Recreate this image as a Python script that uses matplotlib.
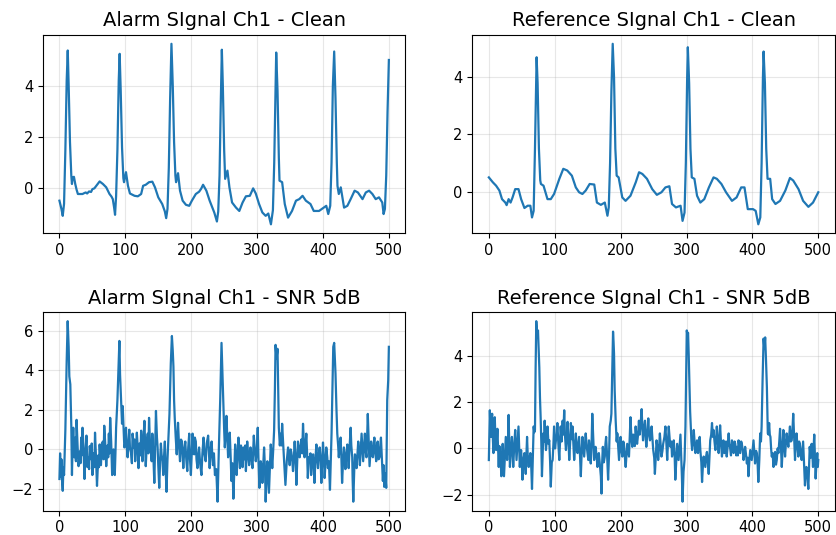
import numpy as np
import matplotlib
matplotlib.use("Agg")
import matplotlib.pyplot as plt

# sample index, amplitude
alarm_clean = [
    (0, -0.48), (3, -0.8), (5, -1.07), (7, -0.6), (9, 1.5), (11, 4.2), (12.6, 5.37), (14, 4.0),
    (16, 1.8), (18, 0.5), (19, 0.17), (20, 0.43), (22, 0.45), (24, 0.17), (26, -0.05), (28, -0.22),
    (35, -0.22), (38, -0.18), (40, -0.16), (42, -0.2), (45, -0.12), (48, -0.14), (50, -0.03),
    (53, 0.0), (56, 0.1), (61, 0.27), (66, 0.17), (71, 0.04), (74, -0.12), (76, -0.22), (79, -0.32),
    (81, -0.42), (83, -0.75), (84.4, -1.03), (86, -0.3), (88, 1.5), (90, 4.2), (91.4, 5.24),
    (93, 3.8), (95, 1.6), (97, 0.4), (98, 0.24), (101, 0.63), (104, 0.1), (107, -0.2), (114, -0.29),
    (119, -0.31), (124, -0.22), (127, 0.1), (131, 0.14), (136, 0.24), (141, 0.26), (145, 0.04),
    (150, -0.35), (156, -0.61), (160, -0.9), (162, -1.16), (164, -0.8), (166, 0.8), (168, 3.5),
    (170, 5.63), (172, 4.0), (174, 1.8), (176, 0.5), (177, 0.24), (180, 0.59), (183, -0.09),
    (187, -0.48), (192, -0.64), (197, -0.68), (201, -0.48), (207, -0.22), (212, -0.13),
    (215, -0.02), (218, 0.14), (223, -0.09), (228, -0.48), (235, -0.94), (239, -1.29), (241, -0.9),
    (243, 0.5), (245, 3.5), (246.5, 5.4), (248, 4.0), (250, 1.5), (251.5, 0.37), (255, 0.69),
    (258, 0.04), (262, -0.55), (268, -0.75), (273, -0.88), (278, -0.55), (283, -0.31), (289, -0.29),
    (294, 0.0), (298, -0.2), (303, -0.61), (308, -0.94), (313, -1.07), (317, -0.98), (321, -1.4),
    (324, -0.85), (326, 1.0), (328, 4.0), (329, 5.29), (331, 3.8), (333, 1.2), (334, 0.3),
    (338, 0.24), (342, -0.61), (347, -1.14), (353, -0.88), (359, -0.48), (364, -0.42), (369, -0.29),
    (374, -0.48), (381, -0.61), (386, -0.88), (394, -0.88), (401, -0.75), (405, -0.68), (408, -1.0),
    (411, -0.68), (413, 1.0), (415, 4.0), (417, 5.33), (419, 3.5), (421, 1.0), (422, 0.1),
    (424, -0.22), (427, 0.04), (432, -0.75), (437, -0.68), (442, -0.42), (448, -0.09), (453, -0.16),
    (460, -0.42), (465, -0.16), (470, -0.09), (475, -0.22), (480, -0.42), (485, -0.35), (490, -0.55),
    (492, -1.0), (494, -0.8), (496, 0.5), (498, 3.0), (500, 5.0),
]

ref_clean = [
    (0, 0.5), (6, 0.33), (11, 0.21), (16, 0.04), (20, -0.26), (25, -0.38), (27, -0.47), (30, -0.26),
    (33, -0.38), (36, -0.2), (40, 0.09), (45, 0.09), (49, -0.26), (54, -0.57), (59, -0.49),
    (63, -0.49), (65.5, -0.9), (68, -0.67), (70, 1.5), (72.5, 4.7), (74, 3.8), (76, 1.5), (78, 0.4),
    (79, 0.27), (83, 0.21), (89, -0.26), (94, -0.26), (99, -0.08), (107, 0.45), (113, 0.8),
    (119, 0.74), (126, 0.56), (132, 0.15), (137, -0.02), (142, -0.08), (147, 0.04), (153, 0.27),
    (160, 0.25), (164, -0.38), (170, -0.46), (176, -0.38), (180, -0.84), (182, -0.55), (184, 1.0),
    (186, 3.5), (188, 5.17), (190, 4.0), (192, 1.5), (194, 0.56), (197, 0.5), (202.5, -0.2),
    (207.5, -0.32), (215, -0.14), (223, 0.33), (228, 0.68), (233, 0.62), (240, 0.45), (248, 0.09),
    (255, -0.11), (262, -0.02), (268, 0.15), (274, 0.19), (278, -0.43), (284, -0.55), (291, -0.49),
    (294, -1.02), (297, -0.73), (299, 1.0), (301, 4.0), (302, 5.05), (304, 3.8), (306, 1.5),
    (308, 0.5), (312, 0.45), (316, -0.14), (321, -0.38), (327, -0.26), (334, 0.15), (341, 0.5),
    (346, 0.45), (353, 0.27), (360, -0.02), (369, -0.32), (376, -0.2), (383, 0.15), (388, 0.15),
    (393, -0.61), (401, -0.61), (405, -0.67), (409, -1.14), (412, -0.9), (414, 1.0), (416, 4.0),
    (417, 4.9), (419, 3.8), (421, 1.5), (423, 0.45), (427, 0.45), (430, -0.26), (435, -0.43),
    (442, -0.32), (450, 0.04), (457, 0.48), (462, 0.39), (470, 0.09), (477, -0.32), (485, -0.53),
    (492, -0.38), (500, -0.02),
]

alarm_noisy = [
    (0, -1.5), (1, -0.2), (2, -1.4), (3, -0.5), (4, -1.6), (5, -2.1), (6, -0.9), (7, -1.3), (9, 1.0),
    (11, 4.5), (12.5, 6.5), (14, 5.2), (15, 3.7), (16.5, 3.3), (18, 1.2), (19, -1.3), (20, 0.3),
    (21, 1.1), (22.5, -0.4), (24, 0.6), (25, -0.6), (26, 1.5), (27.5, 0.2), (29, -0.85), (31, -0.1),
    (32, -0.7), (33, 0.6), (34, -0.3), (35, 1.1), (36.5, 0.1), (38, -1.5), (39.5, -0.2), (41, 0.7),
    (42.5, -0.9), (44, -0.4), (45, -1.0), (46, 0.17), (48, -0.5), (49, 0.3), (50, -1.3), (52, -0.2),
    (53, -0.9), (54, 0.85), (55.5, -0.4), (57, -1.85), (59, -0.3), (60, -0.9), (61, 0.25),
    (62, -0.3), (63, -0.8), (64.5, 0.3), (66, 0.4), (67, -0.5), (68, 1.2), (69.5, 0.3), (71, -0.85),
    (73, 0.2), (74, -0.4), (75, 0.8), (76, -0.2), (77, 1.6), (78.5, 0.4), (80, -1.3), (81, -0.4),
    (82, 0.0), (83, -0.6), (84, -1.3), (85, -0.2), (86, 1.1), (88, 2.5), (89.5, 4.0), (91, 5.5),
    (92, 3.8), (93.5, 2.6), (95, 1.3), (96, 2.2), (97.5, 1.0), (98.5, 0.1), (100, 0.3), (101, 1.1),
    (102, 0.2), (103.5, -0.4), (105, 0.4), (106, 1.0), (107, 0.1), (108.5, -0.15), (110, -0.7),
    (111, 0.8), (113, 0.1), (114, 0.5), (115, -0.6), (116.5, 0.2), (117.5, 0.85), (119, 0.0),
    (120, -0.95), (121.5, 0.3), (123, -0.3), (124, 0.95), (125, 0.2), (126, -0.6), (127.5, 0.5),
    (129, 1.45), (130, 0.2), (131, -0.85), (132.5, 0.2), (134, 0.8), (135, -0.2), (136, 1.6),
    (137.5, 0.3), (139, -0.15), (140, -0.6), (141, 0.8), (142.5, -0.3), (144, -1.7), (145, -0.2),
    (146.5, 1.95), (148, 0.6), (149, 0.1), (150, -0.8), (151.5, -1.95), (153, -0.4), (154, 0.3),
    (155, -0.25), (156.5, -0.6), (157.5, -1.3), (159, -0.2), (160, 0.4), (161, -0.8),
    (162.5, -2.15), (164, -0.5), (165.5, 0.6), (167, 1.8), (169, 4.35), (170.7, 5.75), (172, 5.0),
    (173, 4.2), (174, 2.5), (175, 1.6), (176.5, 0.6), (178, -0.25), (179, 0.5), (180, 1.35),
    (181.5, 0.2), (183, -0.6), (184.5, 0.5), (186, 0.4), (187, -0.3), (188, -0.95), (189.5, 0.0),
    (191, 0.4), (192.5, -0.5), (194, -1.1), (195.5, 0.1), (197, 0.8), (198, -0.4), (199.5, -1.3),
    (201, 0.0), (202, 0.8), (203, -0.2), (204.5, -0.25), (205.5, 0.6), (207, 0.4), (208, -0.5),
    (209.5, -0.95), (211, -0.2), (212, 0.1), (213.5, -0.7), (215.5, -1.3), (217, -0.2),
    (218.7, 0.6), (220, -0.2), (222, -0.6), (223.5, 0.3), (225.7, 0.7), (227, -0.3), (228, -0.95),
    (229.5, 0.0), (231, 0.4), (232, -0.3), (233, -0.8), (234.5, -0.2), (236, -1.3), (238, -1.0),
    (240, -2.65), (242, 0.1), (244, 2.5), (246, 5.4), (247, 4.3), (248.5, 2.8), (250, 1.0),
    (251, 0.1), (252.5, 0.9), (253.5, 1.7), (255, 0.5), (256, -0.4), (257, 0.3), (258.5, 0.85),
    (260, -0.5), (261, -1.6), (262.5, -0.7), (264, -2.5), (265.5, -0.9), (266.7, 0.25), (268, -0.4),
    (269, -1.3), (270.5, -0.2), (271.7, 0.6), (273, -0.2), (274, -0.95), (275.5, 0.2),
    (276.7, -0.25), (278, -0.9), (279, 0.1), (281, -0.5), (282, 0.2), (283, -1.1), (284, -0.4),
    (285, 0.4), (286.5, -0.3), (288, -0.8), (289, -0.2), (290, 0.1), (291.5, -0.5), (293, -0.95),
    (294, -0.1), (295, 0.7), (296.5, 0.0), (298, -0.6), (299.5, -0.1), (301, 1.1), (302, -0.4),
    (303.5, -1.95), (304.5, -1.0), (305.5, -0.6), (307, -0.9), (308, -1.7), (309.5, -0.6),
    (310.6, 0.1), (312, -1.0), (313, -2.65), (314.5, -1.2), (315.6, -0.6), (317, -1.5), (318, -2.2),
    (319.5, -0.8), (320.7, 0.25), (322, -0.3), (323, -0.95), (324.5, 0.0), (325.8, 0.95),
    (327, 3.0), (328, 5.3), (329.5, 4.6), (331, 5.1), (332, 3.0), (333, 1.1), (334.5, 0.2),
    (336, 0.8), (337, 0.2), (338, 1.3), (339.5, 0.3), (341, -0.6), (342, -1.2), (343, -1.8),
    (345, -0.6), (347, 0.1), (348, -0.3), (349.5, -0.8), (351, 0.0), (352, -0.15), (353.5, -0.6),
    (354.5, -1.1), (356, -0.3), (357, 0.4), (358.5, -0.5), (359.6, -1.8), (361, -0.6), (362, 0.4),
    (363.5, 0.0), (364.6, -0.4), (366, 0.1), (367, 0.5), (368.5, -0.2), (369.7, 1.3), (371, 0.3),
    (372, -0.4), (373.5, 0.2), (374.7, 0.8), (376, -0.3), (377, -1.45), (378.5, -0.4), (380, -0.6),
    (381, -0.2), (382, -1.3), (383.5, -0.6), (385, -0.25), (386, -0.8), (387, -1.7), (388.5, -0.5),
    (390, 0.25), (391, -0.4), (392.4, -0.95), (393.5, -0.3), (395, 0.1), (396.5, -0.6),
    (397.5, -1.7), (399, -0.5), (400, 0.35), (401.5, -0.5), (402.5, -1.45), (404, -0.6), (405, 0.1),
    (406.5, -0.4), (407.5, -0.95), (409, -0.6), (410.6, -2.05), (412, -0.4), (413, 0.8),
    (414.5, 3.5), (415.6, 5.2), (417, 5.4), (418, 4.6), (419, 3.85), (420.5, 2.0), (421.7, 0.8),
    (423, 0.2), (424, -0.4), (425.5, 0.3), (426.8, 0.6), (428, -0.5), (429, -1.7), (430.5, -0.6),
    (431.8, 0.1), (433, -0.4), (434, -1.0), (435.5, -0.3), (436.9, 0.25), (438, -0.3), (439, -0.95),
    (440.5, 0.2), (442, 1.1), (443, 0.2), (444.4, -0.4), (445, -1.5), (446, -2.65), (447.5, -1.0),
    (448.5, -0.25), (450, -0.5), (451, -0.95), (452.5, -0.1), (453.5, 0.4), (455, -0.2),
    (456, -0.8), (457.5, 0.1), (458.6, 0.8), (460, 0.0), (461, -0.6), (462.5, 0.2), (463.6, 0.8),
    (465, -0.1), (466, -0.4), (467, 0.6), (468, 1.8), (469.5, 0.3), (470.7, -0.85), (472, -0.1),
    (473, 0.4), (474.5, -0.3), (475.8, -0.4), (477, 0.3), (478, 0.6), (479.5, -0.2), (480.8, -0.6),
    (482, 0.2), (483, 0.4), (484.5, -0.5), (485.8, -0.4), (487, 0.2), (488, 0.6), (489.5, -0.6),
    (490.9, -1.6), (492, -0.8), (493, -1.9), (494.5, -1.2), (496, -1.95), (497.5, 2.5), (499, 3.5),
    (500, 5.2),
]

ref_noisy = [
    (0, -0.5), (1.5, 1.65), (2.5, 0.8), (3.5, 0.5), (4.2, 1.2), (5, 1.5), (6, 0.5), (7, -0.2),
    (8, 0.6), (9, 1.35), (10, 0.4), (11, -0.07), (12, 0.3), (13, 0.85), (14, 0.0), (15, -0.8),
    (16, 0.1), (17, -0.2), (18, -0.6), (19, -1.2), (20, -0.3), (21, 0.2), (22, -0.5), (23, -1.2),
    (24.5, -0.3), (25.7, 0.5), (26.7, 0.0), (27.7, -0.5), (29, 0.3), (30, 1.45), (31, 0.2),
    (32, -0.8), (33.5, 0.0), (35, 0.5), (36, -0.2), (37, -0.8), (38.5, 0.1), (40, 0.8), (41, 0.1),
    (42, -0.5), (43.5, 0.2), (45, 0.95), (46, 0.1), (47, -0.8), (48, -0.3), (49, -0.07), (50, -0.6),
    (51, -1.35), (52.5, -0.5), (54, -0.2), (55, -0.7), (56, -1.1), (57, -0.3), (58, 0.5),
    (59, -0.3), (60.5, -0.8), (62, -0.4), (63, -0.2), (64.5, -0.9), (65.5, -1.75), (67, -0.2),
    (68, 0.95), (69, 0.7), (70, 0.8), (71, 3.5), (72, 5.5), (73.3, 4.8), (74.6, 5.1), (75.6, 4.3),
    (76.6, 3.5), (77.6, 2.2), (78.6, 1.35), (79.6, 0.3), (80.6, -1.2), (81.7, -0.2), (82.7, 0.65),
    (83.7, 0.3), (84.7, 1.2), (85.7, 0.5), (86.7, -0.07), (88, 0.4), (89, 0.95), (90.5, 0.2),
    (91.7, 0.35), (93, -0.6), (94, -1.65), (95.5, -0.6), (96.8, -0.5), (98, 0.2), (99, 0.95),
    (100.5, 0.0), (101.8, 0.35), (103, 0.6), (104, 1.1), (105.5, 0.2), (106.9, -0.5), (108, 0.3),
    (109, 0.95), (110.5, 0.3), (112, 1.2), (113, 0.6), (114.4, 1.65), (115.5, 0.6), (117, -0.07),
    (118.5, 0.5), (119.5, 1.15), (121, 0.3), (122, -0.5), (123.5, 0.3), (124.5, 1.1), (126, 0.4),
    (127, 0.95), (128.5, 0.1), (129.5, -0.5), (131, 0.1), (132, 0.65), (133.5, 0.0), (134.6, -0.2),
    (136, 0.2), (137, 0.5), (138.5, -0.4), (139.6, -1.2), (141, -0.1), (142, 0.5), (143.5, 0.0),
    (144.7, -0.35), (146, 0.2), (147, 0.65), (148.5, 0.1), (149.7, -0.2), (151, -0.5), (152, 0.35),
    (153.5, -0.1), (154.7, -0.65), (156, 0.3), (157, 1.5), (158.5, 0.4), (159.8, -0.5), (161, -0.1),
    (162, 0.07), (163.5, -0.3), (164.8, -0.8), (166, -0.4), (167, -0.2), (168.5, -0.7),
    (170, -1.2), (171, -1.95), (172, -0.6), (173, 0.07), (174.5, -0.6), (176, -0.35), (177, 0.2),
    (178, 0.5), (179.5, -0.3), (181, -1.35), (182.5, -0.2), (183.5, 0.95), (185, 1.2), (186, 1.5),
    (187, 3.0), (188.5, 5.05), (189.3, 4.6), (190, 4.1), (191, 2.5), (192.5, 1.2), (194, 0.3),
    (195, 0.65), (196.5, 0.0), (197.6, -0.5), (199, 0.1), (200, 0.5), (201.5, -0.1), (202.6, -0.35),
    (204, 0.3), (205, 0.2), (206.5, -0.4), (207.7, -0.8), (209, -0.2), (210, 0.2), (211.5, -0.1),
    (212.7, -0.35), (214, 0.6), (215, 1.35), (216.5, 0.4), (217.7, 0.07), (219, 0.6), (220, 0.5),
    (221.5, 0.1), (222.8, 0.95), (224, 0.5), (225, 0.2), (226.5, 0.6), (227.8, 1.2), (229, 0.6),
    (230.5, 1.1), (231.9, 1.7), (233, 0.9), (234, 0.35), (235.5, 0.9), (237, 1.2), (238, 0.5),
    (239, 0.07), (240.5, 0.6), (242, 1.3), (243, 0.7), (244.5, 0.35), (246, 0.5), (247, 0.95),
    (248.5, 0.3), (249.5, -0.07), (251, -0.4), (252, -1.1), (253.5, -0.3), (254.5, 0.35),
    (256, 0.0), (257, -0.5), (258.5, 0.1), (259.6, 0.65), (261, 0.1), (262, -0.35), (263.5, -0.1),
    (264.6, 0.2), (266.5, 0.5), (268, 0.95), (269.5, 0.2), (270.7, -0.5), (272, 0.3), (273, 0.95),
    (274.5, 0.4), (275.7, 0.07), (277, 0.3), (278, -0.35), (279.5, -0.1), (280.7, 0.35),
    (282, -0.3), (283, -1.35), (284.5, -0.5), (285.8, 0.2), (287, -0.2), (288, -0.5), (289.5, 0.1),
    (290.8, 0.6), (292, -0.4), (293, -1.2), (294, -2.3), (295.5, -1.0), (297, -0.5), (298.4, 0.95),
    (299.4, 3.0), (300.4, 5.1), (301.4, 4.9), (302.4, 5.0), (303.4, 4.0), (304.4, 2.8),
    (305.5, 1.6), (306.5, 0.95), (307.5, 0.3), (308.5, -0.07), (310, 0.3), (311, 0.8),
    (312.5, 0.2), (313.5, -0.2), (315, 0.1), (316, 0.35), (317.5, -0.2), (318.5, 0.2), (320, 0.5),
    (321, -0.07), (322.5, -0.6), (323.6, -1.45), (325, -0.7), (326, -0.35), (327.5, -0.6),
    (328.6, -0.8), (330, -0.3), (331, -0.15), (332.5, -0.6), (333.7, -1.1), (335, -0.3),
    (336, 0.35), (337.5, 0.6), (338.7, 1.1), (340, 0.5), (341, 0.8), (342.5, 0.3), (343.8, -0.07),
    (345, 0.4), (346, 0.95), (347.5, 0.3), (348.8, -0.2), (350, 0.4), (351, 1.0), (352.5, 0.2),
    (353.8, -0.35), (355, 0.0), (356, 0.35), (357.5, -0.2), (358.9, 0.07), (360, 0.3),
    (361, -0.35), (362.5, 0.1), (364, 0.65), (365, 0.2), (366, 0.07), (367.5, -0.3), (369, 0.35),
    (370.5, 0.1), (371.5, -0.2), (373, 0.3), (374, 0.2), (375.5, -0.3), (376.5, 0.07), (378, -0.3),
    (379, 0.35), (380.5, 0.0), (381.5, -0.2), (383, 0.3), (384, 0.2), (385.5, -0.1), (386.6, -0.5),
    (388, -0.2), (389, 0.07), (390.5, -0.3), (391.6, -0.65), (393, -0.4), (394, -1.2),
    (395.5, -0.5), (396.7, -0.07), (398, -0.3), (399, -0.5), (400.5, 0.0), (401.7, 0.35),
    (403, -0.2), (404, -0.65), (405.5, -0.1), (406.8, -0.2), (408, -0.7), (409, -1.45),
    (410.5, -0.5), (411.8, 0.65), (413, 0.3), (414, 0.95), (415.5, 3.0), (417, 4.75), (418.2, 4.3),
    (419.4, 4.8), (420.7, 3.8), (422, 2.65), (423.4, 0.65), (424.4, 0.6), (425.4, 1.1),
    (426.4, 0.6), (427.4, 0.5), (428.4, 0.0), (429.4, -0.35), (430.7, -0.2), (432, -0.8),
    (433.3, -0.3), (434.5, -0.15), (435.8, -0.7), (437, -0.5), (438.3, 0.0), (439.5, -0.2),
    (440.8, 0.3), (442, 0.85), (443.3, 0.1), (444.6, -0.8), (445.8, -0.1), (447, 0.8), (448.3, 0.2),
    (449.6, -0.35), (450.8, 0.2), (452, 0.65), (453.3, 0.3), (454.6, 0.07), (455.8, 0.5),
    (457, 0.95), (458.3, 0.3), (459.7, 0.35), (460.8, 0.8), (462, 1.5), (463.3, 0.5),
    (464.7, -0.5), (465.8, 0.2), (467, 0.65), (468.4, 0.1), (469.8, -0.35), (470.9, 0.3),
    (472, 0.2), (473.4, -0.2), (474.8, -0.5), (475.9, -0.1), (477, 0.3), (478.4, -0.6),
    (479.8, -1.6), (480.9, -0.9), (482, -0.8), (483.4, -1.2), (484.9, -1.75), (486, -0.8),
    (487, 0.07), (488.5, -0.4), (489.9, 0.2), (491, -0.2), (492, -0.8), (493, 0.1), (493.9, 0.6),
    (495, -0.4), (496, -1.3), (497.3, -0.6), (498.5, -0.2), (499.3, -0.8), (500, -0.5),
]

titles = ["Alarm SIgnal Ch1 - Clean", "Reference SIgnal Ch1 - Clean",
          "Alarm SIgnal Ch1 - SNR 5dB", "Reference SIgnal Ch1 - SNR 5dB"]
series = [alarm_clean, ref_clean, alarm_noisy, ref_noisy]

fig, axes = plt.subplots(2, 2, figsize=(8.36, 5.35), dpi=100)
plt.subplots_adjust(left=0.0514, right=0.9985, top=0.935, bottom=0.0454,
                    wspace=0.185, hspace=0.397)

for ax, data, title in zip(axes.flat, series, titles):
    x, y = zip(*data)
    ax.plot(x, y, color="#1f77b4", lw=1.6)
    ax.set_title(title, fontsize=14)
    ax.set_xticks([0, 100, 200, 300, 400, 500])
    ax.tick_params(labelsize=10.5)
    ax.grid(True, alpha=0.3)

plt.savefig("out.png", dpi=100)
